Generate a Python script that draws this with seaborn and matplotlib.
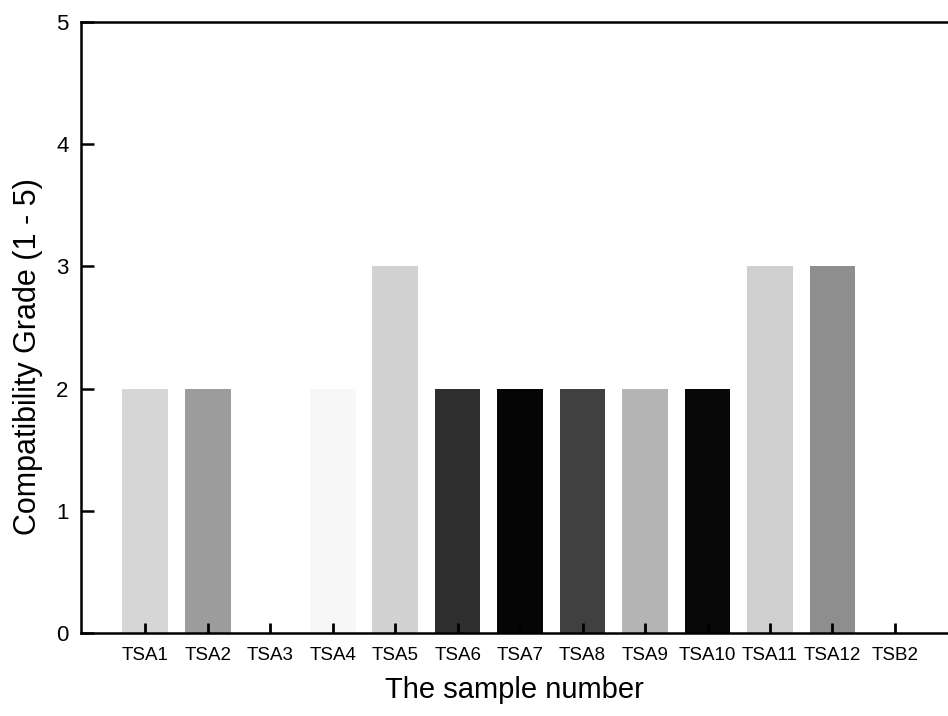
import matplotlib
matplotlib.use("Agg")
import matplotlib.pyplot as plt
import seaborn as sns
import pandas as pd

samples = ["TSA1", "TSA2", "TSA3", "TSA4", "TSA5", "TSA6", "TSA7",
           "TSA8", "TSA9", "TSA10", "TSA11", "TSA12", "TSB2"]
grades = [2, 2, 0, 2, 3, 2, 2, 2, 2, 2, 3, 3, 0]
shades = ["#d6d6d6", "#9c9c9c", "#ffffff", "#f7f7f7", "#d2d2d2", "#2e2e2e",
          "#050505", "#404040", "#b4b4b4", "#080808", "#cfcfcf", "#8e8e8e",
          "#ffffff"]

df = pd.DataFrame({"sample": samples, "grade": grades})

sns.set_theme(style="white")
plt.rcParams["font.family"] = ["Liberation Sans", "DejaVu Sans"]
plt.rcParams["text.color"] = "black"
plt.rcParams["axes.labelcolor"] = "black"

fig = plt.figure(figsize=(9.48, 7.16), dpi=100)
ax = fig.add_axes([0.0854, 0.1159, 0.9146, 0.8534])

sns.barplot(data=df, x="sample", y="grade", hue="sample",
            palette=dict(zip(samples, shades)), width=0.73,
            legend=False, ax=ax, linewidth=0, saturation=1)

ax.set_axisbelow(False)
ax.set_xlim(-1.03, 12.85)
ax.set_ylim(0, 5)
ax.set_yticks(range(0, 6))

for side in ("left", "top", "bottom"):
    ax.spines[side].set_visible(True)
    ax.spines[side].set_color("black")
    ax.spines[side].set_linewidth(1.8)
ax.spines["right"].set_visible(False)

ax.tick_params(axis="y", direction="in", length=9, width=1.8,
               left=True, labelsize=16, pad=9, colors="black")
ax.tick_params(axis="x", direction="in", length=7, width=2,
               bottom=True, labelsize=13.5, pad=10, colors="black")

ax.set_xlabel("The sample number", fontsize=21, labelpad=9, color="black")
ax.set_ylabel("Compatibility Grade (1 - 5)", fontsize=22, color="black")
ax.yaxis.set_label_coords(-0.044, 0.452)

fig.savefig("out.png", dpi=100)
